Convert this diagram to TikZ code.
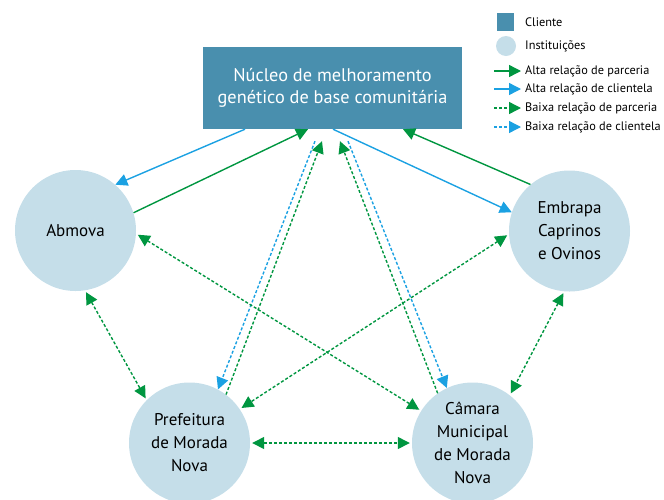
\documentclass[tikz,border=0pt]{standalone}
\usepackage{fontspec}
\setmainfont{PT Sans}
\usetikzlibrary{arrows.meta}
\definecolor{azulcliente}{RGB}{73,143,174}
\definecolor{azulinst}{RGB}{197,222,233}
\definecolor{verdeparc}{RGB}{0,150,64}
\definecolor{azulcli}{RGB}{27,161,226}
\tikzset{
  ponta/.tip={Triangle[length=12pt,width=12pt]},
  cliente/.style={rectangle, fill=azulcliente, text=white, minimum width=259pt,
    minimum height=82pt, align=center, font=\fontsize{18.3}{22}\selectfont},
  inst/.style={circle, fill=azulinst, minimum size=121pt, inner sep=0pt,
    align=center, font=\fontsize{17}{23}\selectfont},
  altaparc/.style={color=verdeparc, line width=1.4pt, -ponta},
  altacli/.style={color=azulcli, line width=1.4pt, -ponta},
  baixaparc/.style={altaparc, dash pattern=on 3pt off 2pt},
  baixacli/.style={altacli, dash pattern=on 3pt off 2pt},
  duplo/.style={ponta-ponta, shorten <=2pt, shorten >=2pt},
  legtexto/.style={anchor=west, inner sep=0pt, font=\fontsize{12.3}{14}\selectfont}
}
\begin{document}
\begin{tikzpicture}[x=1pt, y=-1pt]
  \clip (0,0) rectangle (664,499);
  \node[cliente] (nucleo) at (332.5,88) {Núcleo de melhoramento\\genético de base comunitária};
  \node[inst] (abmova) at (75.5,230.5) {Abmova};
  \node[inst] (embrapa) at (569.5,231) {Embrapa\\Caprinos\\e Ovinos};
  \node[inst] (prefeitura) at (189.5,443) {Prefeitura\\de Morada\\Nova};
  \node[inst] (camara) at (472.5,443) {Câmara\\Municipal\\de Morada\\Nova};

  \draw[altacli] ([xshift=-87.5pt]nucleo.south) -- (abmova.49);
  \draw[altaparc] (abmova.17) -- ([xshift=-24.5pt]nucleo.south);
  \draw[altacli] ([xshift=0.5pt]nucleo.south) -- (embrapa.162.6);
  \draw[altaparc] (embrapa.130.7) -- ([xshift=70.5pt]nucleo.south);
  \draw[baixacli] ([xshift=-17.5pt,yshift=-12pt]nucleo.south) -- (prefeitura.62.8);
  \draw[baixaparc] (prefeitura.53.4) -- ([xshift=-10.5pt,yshift=-12pt]nucleo.south);
  \draw[baixaparc] (camara.125.1) -- ([xshift=7.5pt,yshift=-12pt]nucleo.south);
  \draw[baixacli] ([xshift=15.5pt,yshift=-12pt]nucleo.south) -- (camara.115.5);
  \draw[baixaparc, duplo] (abmova.357.8) -- (camara.148.4);
  \draw[baixaparc, duplo] (embrapa.183.8) -- (prefeitura.34.1);
  \draw[baixaparc, duplo] (abmova.279.7) -- (prefeitura.135.6);
  \draw[baixaparc, duplo] (embrapa.265.8) -- (camara.52.5);
  \draw[baixaparc, duplo] (prefeitura.0) -- (camara.180);

  \node[rectangle, fill=azulcliente, minimum width=17pt, minimum height=18pt, inner sep=0pt] (legcliente) at (505.5,22) {};
  \node[circle, fill=azulinst, minimum size=20pt, inner sep=0pt] (leginst) at (506,46) {};
  \node[legtexto] (txtcliente) at (525,22) {Cliente};
  \node[legtexto] (txtinst) at (525,46) {Instituições};
  \coordinate (la1) at (494,71);  \coordinate (lb1) at (521,71);
  \coordinate (la2) at (494,89);  \coordinate (lb2) at (521,89);
  \coordinate (la3) at (494,108); \coordinate (lb3) at (521,108);
  \coordinate (la4) at (494,127); \coordinate (lb4) at (521,127);
  \draw[altaparc] (la1) -- (lb1);
  \draw[altacli] (la2) -- (lb2);
  \draw[baixaparc] (la3) -- (lb3);
  \draw[baixacli] (la4) -- (lb4);
  \node[legtexto] (txtaltaparc) at (525,71) {Alta relação de parceria};
  \node[legtexto] (txtaltacli) at (525,89) {Alta relação de clientela};
  \node[legtexto] (txtbaixaparc) at (525,108) {Baixa relação de parceria};
  \node[legtexto] (txtbaixacli) at (525,127) {Baixa relação de clientela};
\end{tikzpicture}
\end{document}
